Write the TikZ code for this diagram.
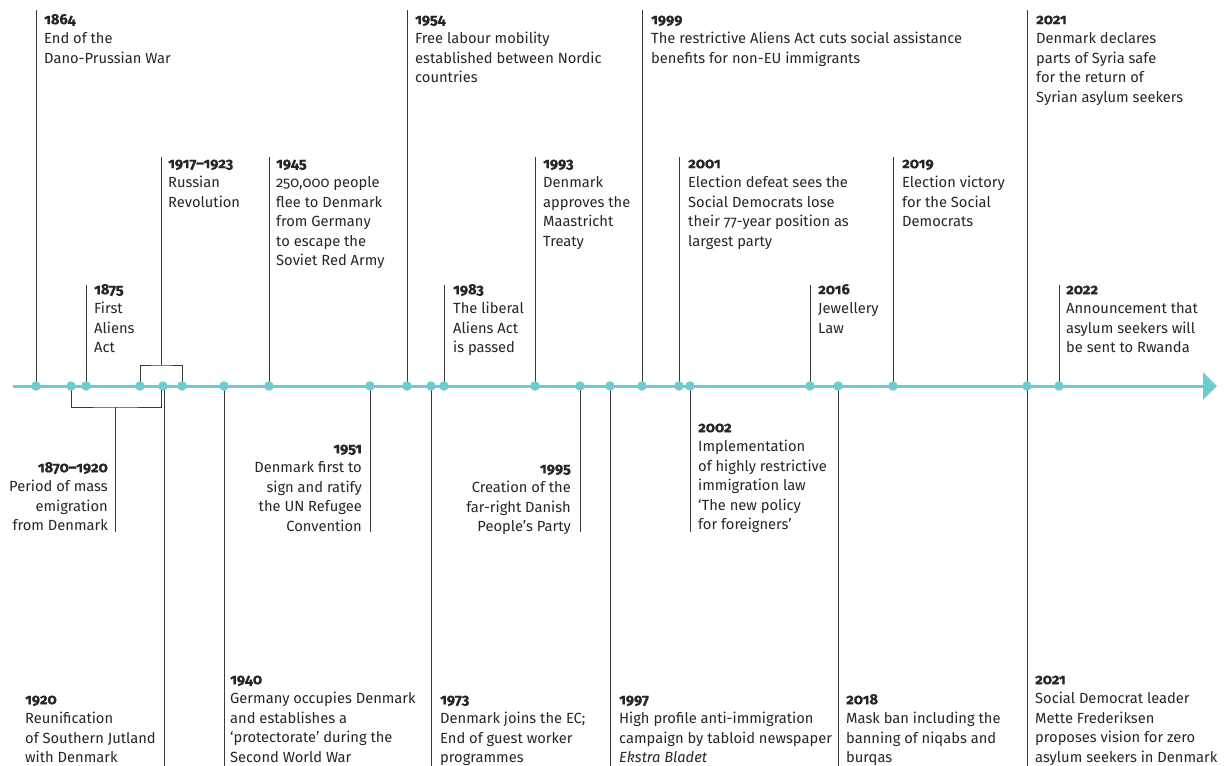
\documentclass[tikz,border=0pt]{standalone}
\usepackage{fontspec}
\setmainfont{Fira Sans}[Numbers=OldStyle, BoldFeatures={FakeBold=0.6}]
\usetikzlibrary{arrows.meta}
\definecolor{teal1}{HTML}{6DCCD0}
\definecolor{ink}{HTML}{262626}
\definecolor{stemc}{HTML}{3A3A3A}
\newcommand\yr[1]{\rule{0pt}{11pt}\textbf{#1}}
\begin{document}
\begin{tikzpicture}[x=1pt,y=-1pt,
  dot/.style={circle,fill=teal1,inner sep=0pt,minimum size=9.5pt},
  stem/.style={draw=stemc,line width=0.9pt},
  axisline/.style={draw=teal1,line width=3pt,-{Triangle[length=14pt,width=27pt]}},
  evL/.style={anchor=north west,align=left,inner sep=0pt,text=ink,font=\fontsize{14.7}{19.5}\selectfont},
  evR/.style={evL,anchor=north east,align=right}]
\useasboundingbox (0,0) rectangle (1227,766);
% axis
\coordinate (axs) at (13,386);
\coordinate (axe) at (1217,386);
\draw[axisline] (axs) -- (axe);
% dot positions
\foreach \n/\x in {1864/36,1870/71,1875/86,1917/140,1920/163,1923/182,1940/224,1945/269,1951/370,1954/407,1973/431,1983/444,1993/535,1995/580,1997/610,1999/642,2001/679,2002/690,2016/810,2018/838,2019/893,2021/1027,2022/1059}
  \coordinate (p\n) at (\x,386);
% stem end points
\coordinate (t1864) at (36,10);
\coordinate (t1875) at (86,285);
\coordinate (brT) at (161,365);
\coordinate (t1917) at (161,157);
\coordinate (t1945) at (269,157);
\coordinate (t1954) at (407,10);
\coordinate (t1983) at (444,285);
\coordinate (t1993) at (535,157);
\coordinate (t1999) at (642,10);
\coordinate (t2001) at (679,157);
\coordinate (t2016) at (810,285);
\coordinate (t2019) at (893,157);
\coordinate (t2021) at (1027,10);
\coordinate (t2022) at (1059,285);
\coordinate (brB) at (115,407);
\coordinate (brBr) at (161,386);
\coordinate (b1870) at (115,532);
\coordinate (s1920) at (164,386);
\coordinate (b1920) at (164,766);
\coordinate (b1940) at (224,766);
\coordinate (b1951) at (370,532);
\coordinate (b1973) at (431,766);
\coordinate (b1995) at (580,532);
\coordinate (b1997) at (610,766);
\coordinate (b2002) at (690,532);
\coordinate (b2018) at (838,766);
\coordinate (b2021) at (1027,766);
% stems
\foreach \n in {1864,1875,1945,1954,1983,1993,1999,2001,2016,2019,2021,2022}
  \draw[stem] (p\n) -- (t\n);
\draw[stem] (p1917) |- (brT) -| (p1923);
\draw[stem] (brT) -- (t1917);
\draw[stem] (p1870) |- (brB) -| (brBr);
\draw[stem] (brB) -- (b1870);
\draw[stem] (s1920) -- (b1920);
\foreach \n in {1940,1951,1973,1995,1997,2002,2018,2021}
  \draw[stem] (p\n) -- (b\n);
% dots
\foreach \n in {1864,1870,1875,1917,1920,1923,1940,1945,1951,1954,1973,1983,1993,1995,1997,1999,2001,2002,2016,2018,2019,2021,2022}
  \node[dot] (d\n) at (p\n) {};
% texts above
\node[evL] (e1864) at (44,13) {\yr{1864}\\End of the\\Dano-Prussian War};
\node[evL] (e1954) at (415,13) {\yr{1954}\\Free labour mobility\\established between Nordic\\countries};
\node[evL] (e1999) at (651,13) {\yr{1999}\\The restrictive Aliens Act cuts social assistance\\benefits for non-EU immigrants};
\node[evL] (e2021a) at (1036,13) {\yr{2021}\\Denmark declares\\parts of Syria safe\\for the return of\\Syrian asylum seekers};
\node[evL] (e1917) at (168,157) {\yr{1917–1923}\\Russian\\Revolution};
\node[evL] (e1945) at (276,157) {\yr{1945}\\250,000 people\\flee to Denmark\\from Germany\\to escape the\\Soviet Red Army};
\node[evL] (e1993) at (543,157) {\yr{1993}\\Denmark\\approves the\\Maastricht\\Treaty};
\node[evL] (e2001) at (688,157) {\yr{2001}\\Election defeat sees the\\Social Democrats lose\\their 77-year position as\\largest party};
\node[evL] (e2019) at (902,157) {\yr{2019}\\Election victory\\for the Social\\Democrats};
\node[evL] (e1875) at (94,283) {\yr{1875}\\First\\Aliens\\Act};
\node[evL] (e1983) at (453,283) {\yr{1983}\\The liberal\\Aliens Act\\is passed};
\node[evL] (e2016) at (818,283) {\yr{2016}\\Jewellery\\Law};
\node[evL] (e2022) at (1066,283) {\yr{2022}\\Announcement that\\asylum seekers will\\be sent to Rwanda};
% texts below
\node[evR] (e1870) at (108,461) {\yr{1870–1920}\\Period of mass\\emigration\\from Denmark};
\node[evR] (e1951) at (362,442) {\yr{1951}\\Denmark first to\\sign and ratify\\the UN Refugee\\Convention};
\node[evR] (e1995) at (571,462) {\yr{1995}\\Creation of the\\far-right Danish\\People’s Party};
\node[evL] (e2002) at (698,421) {\yr{2002}\\Implementation\\of highly restrictive\\immigration law\\‘The new policy\\for foreigners’};
\node[evL] (e1920) at (25,693) {\yr{1920}\\Reunification\\of Southern Jutland\\with Denmark};
\node[evL] (e1940) at (230,673) {\yr{1940}\\Germany occupies Denmark\\and establishes a\\‘protectorate’ during the\\Second World War};
\node[evL] (e1973) at (440,693) {\yr{1973}\\Denmark joins the EC;\\End of guest worker\\programmes};
\node[evL] (e1997) at (619,693) {\yr{1997}\\High profile anti-immigration\\campaign by tabloid newspaper\\\textit{Ekstra Bladet}};
\node[evL] (e2018) at (846,693) {\yr{2018}\\Mask ban including the\\banning of niqabs and\\burqas};
\node[evL] (e2021b) at (1035,673) {\yr{2021}\\Social Democrat leader\\Mette Frederiksen\\proposes vision for zero\\asylum seekers in Denmark};
\end{tikzpicture}
\end{document}
